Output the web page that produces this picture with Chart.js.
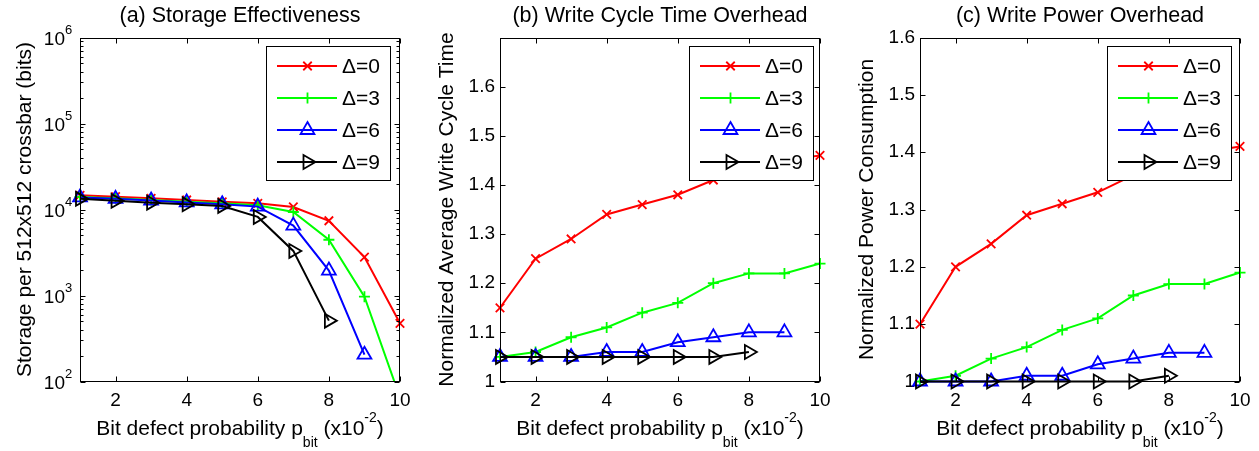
<!DOCTYPE html>
<html><head><meta charset="utf-8">
<script src="https://cdn.jsdelivr.net/npm/chart.js@4.4.1/dist/chart.umd.min.js"></script>
<style>
html,body{margin:0;padding:0;background:#fff;}
#wrap{display:flex;width:1259px;height:451px;}
canvas{display:block;}
</style></head><body>
<div id="wrap">
<canvas id="ca" width="420" height="451"></canvas>
<canvas id="cb" width="420" height="451"></canvas>
<canvas id="cc" width="419" height="451"></canvas>
</div>
<script>
// ---- data ----
const pbit = [1,2,3,4,5,6,7,8,9,10];
const seriesNames = ['Δ=0','Δ=3','Δ=6','Δ=9'];
// (a) storage per 512x512 crossbar (bits)
const storageD0 = [14600,14100,13500,12900,12300,11800,10700,7400,2800,475];
const storageD3 = [14000,13500,12900,12300,11800,11200,9350,4450,970,65];
const storageD6 = [13800,13300,12700,12100,11500,10800,6500,1950,205];
const storageD9 = [13300,12600,12000,11500,11000,8200,3300,510];
// (b) normalized average write cycle time
const cycleD0 = [1.15,1.25,1.29,1.34,1.36,1.38,1.41,1.43,1.45,1.46];
const cycleD3 = [1.05,1.06,1.09,1.11,1.14,1.16,1.20,1.22,1.22,1.24];
const cycleD6 = [1.05,1.05,1.05,1.06,1.06,1.08,1.09,1.10,1.10];
const cycleD9 = [1.05,1.05,1.05,1.05,1.05,1.05,1.05,1.06];
// (c) normalized power consumption
const powerD0 = [1.10,1.20,1.24,1.29,1.31,1.33,1.36,1.38,1.40,1.41];
const powerD3 = [1.00,1.01,1.04,1.06,1.09,1.11,1.15,1.17,1.17,1.19];
const powerD6 = [1.00,1.00,1.00,1.01,1.01,1.03,1.04,1.05,1.05];
const powerD9 = [1.00,1.00,1.00,1.00,1.00,1.00,1.00,1.01];
// ticks
const xTicks = [2,4,6,8,10];
const yTicksA = [100,1000,10000,100000,1000000];
const yTicksB = [1,1.1,1.2,1.3,1.4,1.5,1.6];
const yTicksC = [1,1.1,1.2,1.3,1.4,1.5,1.6];
const titles = ['(a) Storage Effectiveness','(b) Write Cycle Time Overhead','(c) Write Power Overhead'];
const yTitles = ['Storage per 512x512 crossbar (bits)','Normalized Average Write Cycle Time','Normalized Power Consumption'];

// ---- style ----
const FONT = '"Liberation Sans", Arial, Helvetica, sans-serif';
const COLORS = ['#ff0000','#00ff00','#0000ff','#000000'];
const STYLES = [
  {pointStyle:'crossRot', pointRadius:6, pointRotation:0},
  {pointStyle:'cross', pointRadius:5.5, pointRotation:0},
  {pointStyle:'triangle', pointRadius:8, pointRotation:0},
  {pointStyle:'triangle', pointRadius:8, pointRotation:90}
];

function makeDatasets(list, clip){
  return list.map((vals,i)=>Object.assign({
    label: seriesNames[i],
    data: vals.map((v,j)=>({x:pbit[j], y:v})),
    borderColor: COLORS[i],
    backgroundColor: 'rgba(0,0,0,0)',
    pointBorderColor: COLORS[i],
    pointBackgroundColor: 'rgba(0,0,0,0)',
    borderWidth: 2,
    pointBorderWidth: 1.8,
    tension: 0,
    clip: clip,
    order: 4 - i
  }, STYLES[i]));
}

function drawMarker(ctx, ds, x, y){
  ctx.save();
  ctx.strokeStyle = ds.borderColor;
  ctx.fillStyle = 'rgba(0,0,0,0)';
  ctx.lineWidth = ds.pointBorderWidth;
  if (Chart.helpers && Chart.helpers.drawPoint) {
    Chart.helpers.drawPoint(ctx, {pointStyle: ds.pointStyle, radius: ds.pointRadius, rotation: ds.pointRotation, borderWidth: ds.pointBorderWidth}, x, y);
  }
  ctx.restore();
}

const framePlugin = {
  id: 'frame',
  afterDatasetsDraw(chart, args, o){
    const {ctx, chartArea:a} = chart;
    const x = chart.scales.x, y = chart.scales.y;
    ctx.save();
    ctx.strokeStyle = '#000'; ctx.lineWidth = 1;
    const L = Math.round(a.left)+0.5, R = Math.round(a.right)-0.5, T = Math.round(a.top)+0.5, B = Math.round(a.bottom)-0.5;
    ctx.strokeRect(L, T, R-L, B-T);
    const tl = 5;
    ctx.beginPath();
    xTicks.forEach(v=>{ const px = Math.round(x.getPixelForValue(v))+0.5;
      ctx.moveTo(px,B); ctx.lineTo(px,B-tl); ctx.moveTo(px,T); ctx.lineTo(px,T+tl); });
    o.yMarks.forEach(v=>{ const py = Math.round(y.getPixelForValue(v))+0.5;
      ctx.moveTo(L,py); ctx.lineTo(L+tl,py); ctx.moveTo(R,py); ctx.lineTo(R-tl,py); });
    (o.yMinor||[]).forEach(v=>{ const py = Math.round(y.getPixelForValue(v))+0.5;
      ctx.moveTo(L,py); ctx.lineTo(L+3,py); ctx.moveTo(R,py); ctx.lineTo(R-3,py); });
    ctx.stroke();
    // legend
    const w = 124, h = 134;
    const lx = Math.round(a.right - o.legendRight - w), ly = Math.round(a.top + o.legendTop);
    ctx.fillStyle = '#fff';
    ctx.fillRect(lx, ly, w, h);
    ctx.strokeRect(lx+0.5, ly+0.5, w, h);
    chart.data.datasets.forEach((ds,i)=>{
      const cy = ly + 20 + i*32;
      ctx.strokeStyle = ds.borderColor; ctx.lineWidth = ds.borderWidth;
      ctx.beginPath(); ctx.moveTo(lx+11, cy); ctx.lineTo(lx+71, cy); ctx.stroke();
      drawMarker(ctx, ds, lx+41.5, cy);
      ctx.fillStyle = '#000'; ctx.font = '21px '+FONT;
      ctx.textAlign = 'left'; ctx.textBaseline = 'middle';
      ctx.fillText(ds.label, lx+76, cy+1);
    });
    ctx.restore();
  },
  afterDraw(chart, args, o){
    const {ctx, chartArea:a} = chart;
    const cx = (a.left+a.right)/2;
    ctx.save();
    ctx.fillStyle = '#000';
    // title
    ctx.font = '21.5px '+FONT; ctx.textAlign = 'center'; ctx.textBaseline = 'alphabetic';
    ctx.fillText(o.title, cx, 22);
    // y title
    ctx.save();
    ctx.font = '21px '+FONT;
    ctx.translate(o.yTitleX, (a.top+a.bottom)/2);
    ctx.rotate(-Math.PI/2);
    ctx.textBaseline = 'middle';
    ctx.fillText(o.yTitle, 0, 0);
    ctx.restore();
    // x title with subscript / superscript
    const parts = [
      {t:'Bit defect probability p', f:21, dy:0},
      {t:'bit', f:14, dy:12},
      {t:' (x10', f:21, dy:0},
      {t:'-2', f:14, dy:-13},
      {t:')', f:21, dy:0}
    ];
    let total = 0;
    parts.forEach(p=>{ ctx.font = p.f+'px '+FONT; p.w = ctx.measureText(p.t).width; total += p.w; });
    let px = cx - total/2;
    const base = 435;
    ctx.textAlign = 'left'; ctx.textBaseline = 'alphabetic';
    parts.forEach(p=>{ ctx.font = p.f+'px '+FONT; ctx.fillText(p.t, px, base + p.dy); px += p.w; });
    // log tick labels (10^n)
    if (o.logLabels) {
      const y = chart.scales.y;
      o.logLabels.forEach(v=>{
        const py = y.getPixelForValue(v);
        ctx.font = '19px '+FONT; ctx.textAlign = 'right'; ctx.textBaseline = 'middle';
        ctx.fillText('10', a.left - 15, py + 2);
        ctx.font = '13px '+FONT; ctx.textAlign = 'left';
        ctx.fillText(String(Math.round(Math.log10(v))), a.left - 15, py - 7);
      });
    }
    ctx.restore();
  }
};

function baseOptions(o){
  return {
    responsive: false,
    animation: false,
    devicePixelRatio: 1,
    layout: {padding: {top: 37.5, right: o.padRight, left: 0, bottom: 0}},
    plugins: {legend:{display:false}, tooltip:{enabled:false}, title:{display:false}, frame: o.frame},
    scales: {
      x: {
        type: 'linear', min: 1, max: 10,
        afterBuildTicks: s => { s.ticks = xTicks.map(v=>({value:v})); },
        afterFit: s => { s.height = 69.5; },
        grid: {display:false, drawTicks:false},
        border: {display:false},
        ticks: {font:{family:FONT, size:19}, color:'#000', padding:8, maxRotation:0, autoSkip:false}
      },
      y: o.y
    }
  };
}

// (a)
const minorA = [];
for (let e=2; e<6; e++) for (let m=2; m<10; m++) minorA.push(m*Math.pow(10,e));
new Chart(document.getElementById('ca'), {
  type: 'line',
  data: {datasets: makeDatasets([storageD0,storageD3,storageD6,storageD9], {left:12, top:12, right:12, bottom:0})},
  options: baseOptions({
    padRight: 20,
    frame: {title: titles[0], yTitle: yTitles[0], yTitleX: 25, yMarks: yTicksA, yMinor: minorA, logLabels: yTicksA, legendRight: 10, legendTop: 8},
    y: {
      type: 'logarithmic', min: 100, max: 1000000,
      afterBuildTicks: s => { s.ticks = yTicksA.map(v=>({value:v})); },
      afterFit: s => { s.width = 80; },
      grid: {display:false, drawTicks:false}, border:{display:false},
      ticks: {display:false}
    }
  }),
  plugins: [framePlugin]
});

// (b)
new Chart(document.getElementById('cb'), {
  type: 'line',
  data: {datasets: makeDatasets([cycleD0,cycleD3,cycleD6,cycleD9], false)},
  options: baseOptions({
    padRight: 20,
    frame: {title: titles[1], yTitle: yTitles[1], yTitleX: 27, yMarks: yTicksB, legendRight: 7, legendTop: 8},
    y: {
      type: 'linear', min: 1, max: 1.7,
      afterBuildTicks: s => { s.ticks = yTicksB.map(v=>({value:v})); },
      afterFit: s => { s.width = 80; },
      grid: {display:false, drawTicks:false}, border:{display:false},
      ticks: {font:{family:FONT, size:19}, color:'#000', padding:5, callback: v => (v===1 ? '1' : Number(v).toFixed(1))}
    }
  }),
  plugins: [framePlugin]
});

// (c)
new Chart(document.getElementById('cc'), {
  type: 'line',
  data: {datasets: makeDatasets([powerD0,powerD3,powerD6,powerD9], false)},
  options: baseOptions({
    padRight: 19,
    frame: {title: titles[2], yTitle: yTitles[2], yTitleX: 27, yMarks: yTicksC, legendRight: 9, legendTop: 8},
    y: {
      type: 'linear', min: 1, max: 1.6,
      afterBuildTicks: s => { s.ticks = yTicksC.map(v=>({value:v})); },
      afterFit: s => { s.width = 80; },
      grid: {display:false, drawTicks:false}, border:{display:false},
      ticks: {font:{family:FONT, size:19}, color:'#000', padding:5, callback: v => (v===1 ? '1' : Number(v).toFixed(1))}
    }
  }),
  plugins: [framePlugin]
});
</script>
</body></html>
